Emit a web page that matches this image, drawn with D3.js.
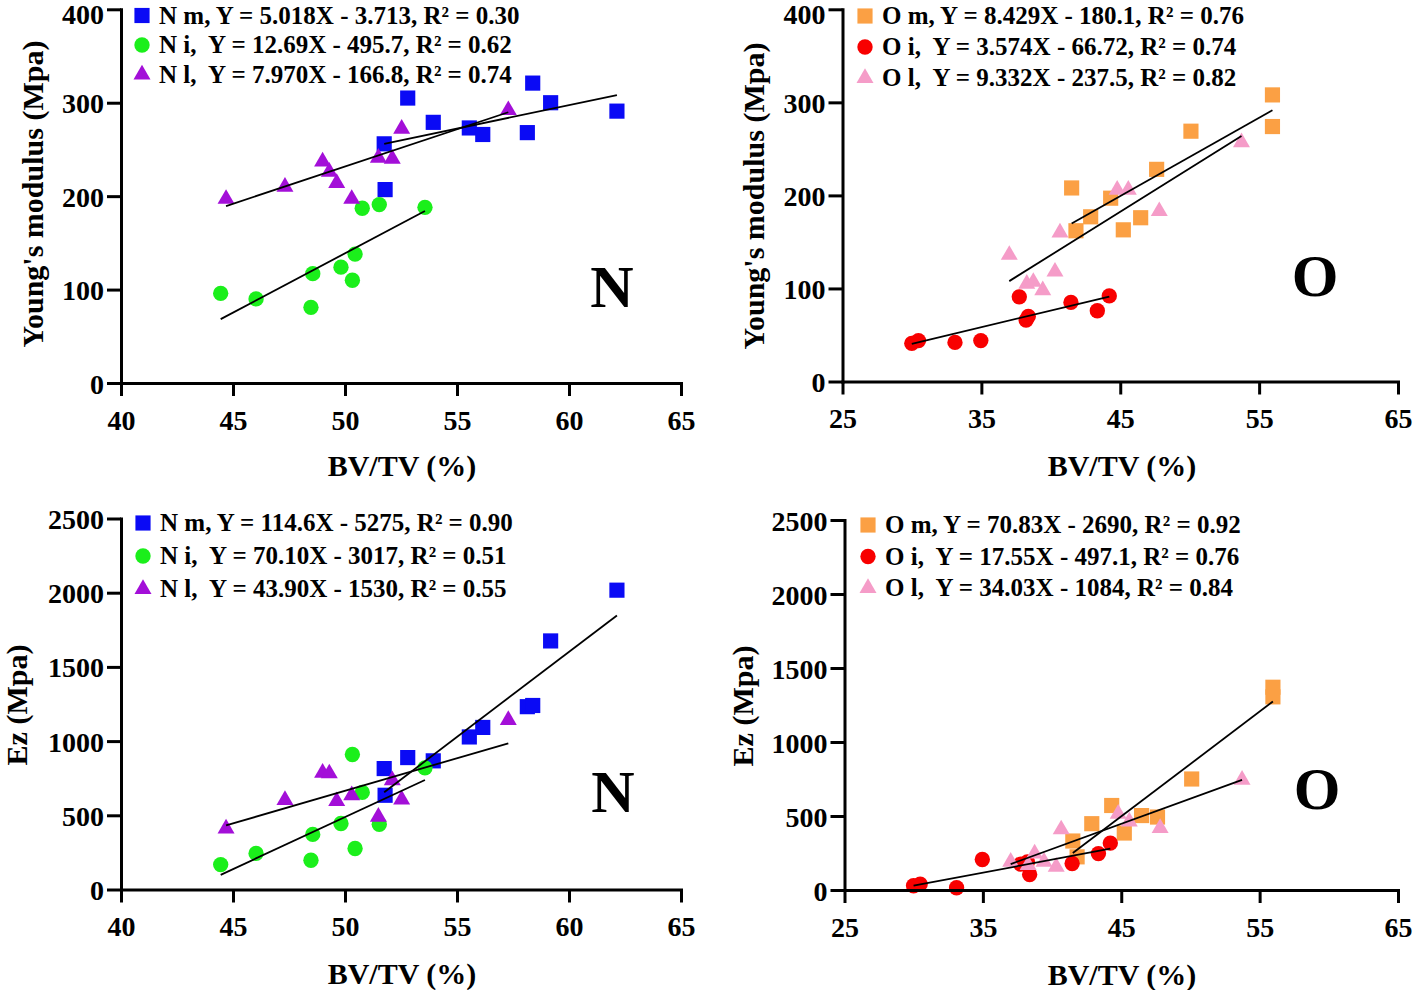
<!DOCTYPE html>
<html>
<head>
<meta charset="utf-8">
<script src="https://cdn.jsdelivr.net/npm/d3@7"></script>
<style>
body { margin: 0; background: #fff; }
text { font-family: "Liberation Serif", "Times New Roman", serif; font-weight: bold; fill: #000; white-space: pre; }
</style>
</head>
<body>
<script>
// ---- data ----
// tick values
var nTicks = [40, 45, 50, 55, 60, 65];
var oTicks = [25, 35, 45, 55, 65];
var youngTicks = [0, 100, 200, 300, 400];
var ezTicks = [0, 500, 1000, 1500, 2000, 2500];

// N group, BV/TV (%) and moduli (MPa)
var nmBV    = [51.75, 51.79, 52.8, 53.94, 55.55, 56.15, 58.14, 58.38, 59.18, 62.14];
var nmYoung = [256, 207, 305, 279, 273, 266, 268, 321, 300, 291];
var nmEz    = [815, 635, 889, 867, 1028, 1092, 1232, 1240, 1675, 2017];

var niBV    = [44.45, 46.03, 48.48, 48.56, 49.82, 50.33, 50.45, 50.77, 51.53, 53.57];
var niYoung = [96, 90, 81, 117, 124, 110, 138, 187, 191, 188];
var niEz    = [168, 243, 197, 371, 445, 910, 276, 654, 440, 820];

var nlBV    = [44.69, 47.32, 49.0, 49.3, 49.63, 50.3, 51.49, 52.11, 52.53, 57.29];
var nlYoung = [197, 210, 237, 226, 214, 197, 241, 240, 272, 292];
var nlEz    = [411, 602, 786, 782, 595, 635, 489, 736, 606, 1141];

// O group
var omBV    = [41.5, 41.81, 42.87, 44.31, 45.22, 46.47, 47.62, 50.09, 55.96, 55.96];
var omYoung = [208, 162, 177, 197, 163, 176, 228, 269, 308, 274];
var omEz    = [331, 224, 448, 571, 385, 503, 493, 750, 1370, 1305];

var oiBV    = [29.99, 30.47, 33.1, 34.96, 37.73, 38.22, 38.38, 41.45, 43.35, 44.21];
var oiYoung = [41, 44, 42, 44, 91, 66, 70, 85, 76, 92];
var oiEz    = [29, 40, 15, 206, 175, 190, 105, 179, 246, 317];

var olBV    = [37.01, 38.27, 38.74, 39.42, 40.3, 40.66, 44.78, 45.58, 47.81, 53.73];
var olYoung = [136, 105, 107, 98, 118, 160, 206, 206, 183, 257];
var olEz    = [190, 168, 246, 190, 157, 409, 515, 463, 418, 745];

// linear fits [slope, intercept], as printed in the legends
var youngFitsN = [[5.018, -3.713], [12.69, -495.7], [7.970, -166.8]];
var youngFitsO = [[8.429, -180.1], [3.574, -66.72], [9.332, -237.5]];
var ezFitsN = [[114.6, -5275], [70.10, -3017], [43.90, -1530]];
var ezFitsO = [[70.83, -2690], [17.55, -497.1], [34.03, -1084]];

var youngLabelsN = ["N m, Y = 5.018X - 3.713, R\u00b2 = 0.30", "N i,  Y = 12.69X - 495.7, R\u00b2 = 0.62", "N l,  Y = 7.970X - 166.8, R\u00b2 = 0.74"];
var youngLabelsO = ["O m, Y = 8.429X - 180.1, R\u00b2 = 0.76", "O i,  Y = 3.574X - 66.72, R\u00b2 = 0.74", "O l,  Y = 9.332X - 237.5, R\u00b2 = 0.82"];
var ezLabelsN = ["N m, Y = 114.6X - 5275, R\u00b2 = 0.90", "N i,  Y = 70.10X - 3017, R\u00b2 = 0.51", "N l,  Y = 43.90X - 1530, R\u00b2 = 0.55"];
var ezLabelsO = ["O m, Y = 70.83X - 2690, R\u00b2 = 0.92", "O i,  Y = 17.55X - 497.1, R\u00b2 = 0.76", "O l,  Y = 34.03X - 1084, R\u00b2 = 0.84"];

var colorsN = ["#0a0af5", "#1bef1b", "#a30fd8"];
var colorsO = ["#fba044", "#f80000", "#f59cc8"];
var shapes = [d3.symbolSquare, d3.symbolCircle, d3.symbolTriangle];
var shapeSize = [230, 185, 125];

var svg = d3.select("body").append("svg")
    .attr("width", 1416)
    .attr("height", 990);

function panel(p) {
  var g = svg.append("g");
  var x = d3.scaleLinear().domain(p.xDomain).range([p.left, p.right]);
  var y = d3.scaleLinear().domain(p.yDomain).range([p.bottom, p.top]);

  var groups = p.bv.map(function(bv, i) {
    return { pts: d3.zip(bv, p.vals[i]), fit: p.fits[i], color: p.colors[i], shape: shapes[i], size: shapeSize[i] };
  });

  // markers: squares, then circles, then triangles
  groups.forEach(function(gr) {
    g.append("g").selectAll("path")
      .data(gr.pts)
      .join("path")
      .attr("transform", function(d) { return "translate(" + x(d[0]) + "," + y(d[1]) + ")"; })
      .attr("d", d3.symbol().type(gr.shape).size(gr.size))
      .attr("fill", gr.color);
  });

  // fitted lines over the data range
  groups.forEach(function(gr) {
    var ext = d3.extent(gr.pts, function(d) { return d[0]; });
    g.append("line")
      .attr("x1", x(ext[0])).attr("y1", y(gr.fit[0] * ext[0] + gr.fit[1]))
      .attr("x2", x(ext[1])).attr("y2", y(gr.fit[0] * ext[1] + gr.fit[1]))
      .attr("stroke", "#000")
      .attr("stroke-width", 1.8);
  });

  var xa = g.append("g")
      .attr("transform", "translate(0," + p.bottom + ")")
      .call(d3.axisBottom(x).tickValues(p.xTicks).tickFormat(d3.format("d"))
        .tickSize(13).tickSizeOuter(0).tickPadding(14));
  var ya = g.append("g")
      .attr("transform", "translate(" + p.left + ",0)")
      .call(d3.axisLeft(y).tickValues(p.yTicks).tickFormat(d3.format("d"))
        .tickSize(14).tickSizeOuter(0).tickPadding(3));

  [xa, ya].forEach(function(a) {
    a.select(".domain").attr("stroke-width", 3).attr("stroke-linecap", "square");
    a.selectAll(".tick line").attr("stroke-width", 3);
    a.selectAll(".tick text").style("font-size", "28px");
  });
  // keep the top label inside the page
  ya.selectAll(".tick text").attr("dy", function(d) { return y(d) < 15 ? "0.5em" : "0.36em"; });

  g.append("text")
      .attr("x", p.xTitle[0])
      .attr("y", p.xTitle[1])
      .attr("text-anchor", "middle")
      .style("font-size", "30px")
      .text("BV/TV (%)");

  g.append("text")
      .attr("transform", "translate(" + p.yTitle[0] + "," + p.yTitle[1] + ") rotate(-90)")
      .attr("text-anchor", "middle")
      .style("font-size", "30px")
      .text(p.yLabel);

  // legend
  var lg = g.append("g").attr("transform", "translate(" + p.legend[0] + "," + p.legend[1] + ")");
  groups.forEach(function(gr, i) {
    var row = lg.append("g").attr("transform", "translate(0," + (i * p.legend[2]) + ")");
    row.append("path")
      .attr("d", d3.symbol().type(gr.shape).size(gr.size))
      .attr("fill", gr.color);
    row.append("text")
      .attr("x", 17)
      .attr("y", 8)
      .style("font-size", "25px")
      .text(p.labels[i]);
  });

  g.append("text")
      .attr("x", p.big[0])
      .attr("y", p.big[1])
      .attr("text-anchor", "middle")
      .style("font-size", "60px")
      .text(p.bigLabel);
}

panel({
  left: 121, right: 681, top: 9.3, bottom: 383,
  xDomain: [40, 65], xTicks: nTicks, yDomain: [0, 400], yTicks: youngTicks,
  bv: [nmBV, niBV, nlBV], vals: [nmYoung, niYoung, nlYoung], fits: youngFitsN,
  colors: colorsN, labels: youngLabelsN,
  xTitle: [402, 476], yTitle: [43, 194], yLabel: "Young's modulus (Mpa)",
  legend: [142, 15.5, 29.5], big: [612, 307], bigLabel: "N"
});

panel({
  left: 842.5, right: 1398, top: 9.3, bottom: 381.5,
  xDomain: [25, 65], xTicks: oTicks, yDomain: [0, 400], yTicks: youngTicks,
  bv: [omBV, oiBV, olBV], vals: [omYoung, oiYoung, olYoung], fits: youngFitsO,
  colors: colorsO, labels: youngLabelsO,
  xTitle: [1122, 476], yTitle: [764, 196], yLabel: "Young's modulus (Mpa)",
  legend: [865, 16, 31], big: [1315, 296], bigLabel: "O"
});

panel({
  left: 121, right: 681, top: 518.5, bottom: 889.5,
  xDomain: [40, 65], xTicks: nTicks, yDomain: [0, 2500], yTicks: ezTicks,
  bv: [nmBV, niBV, nlBV], vals: [nmEz, niEz, nlEz], fits: ezFitsN,
  colors: colorsN, labels: ezLabelsN,
  xTitle: [402, 984], yTitle: [27, 705], yLabel: "Ez (Mpa)",
  legend: [143, 523, 33], big: [613, 812], bigLabel: "N"
});

panel({
  left: 844.5, right: 1398, top: 520, bottom: 890,
  xDomain: [25, 65], xTicks: oTicks, yDomain: [0, 2500], yTicks: ezTicks,
  bv: [omBV, oiBV, olBV], vals: [omEz, oiEz, olEz], fits: ezFitsO,
  colors: colorsO, labels: ezLabelsO,
  xTitle: [1122, 985], yTitle: [753, 706], yLabel: "Ez (Mpa)",
  legend: [868, 525, 31.5], big: [1317, 809], bigLabel: "O"
});
</script>
</body>
</html>
